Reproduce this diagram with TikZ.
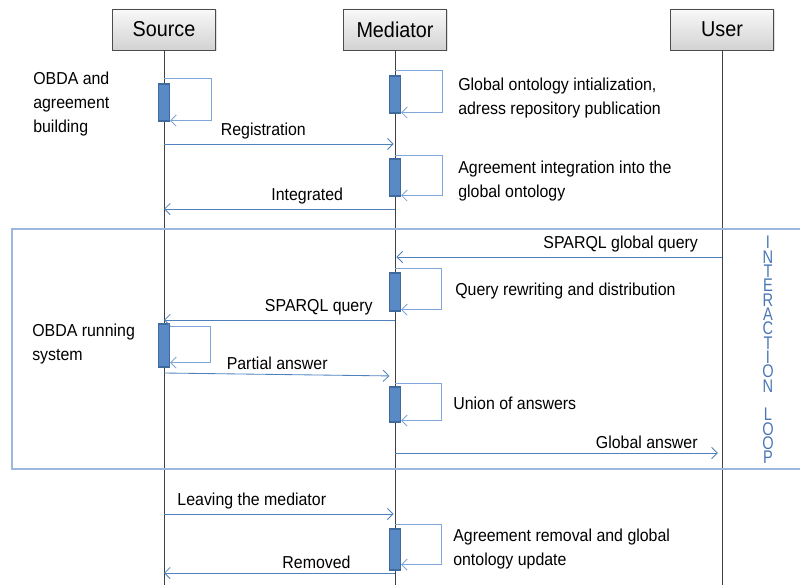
\documentclass[tikz,border=0pt]{standalone}
\usepackage{fontspec}
\setmainfont{Liberation Sans}[FakeStretch=0.92]
\newfontfamily\loopfont{Liberation Sans}[FakeStretch=0.8]
\usetikzlibrary{positioning, arrows.meta, shadows}
\definecolor{msgblue}{HTML}{4F81BD}
\definecolor{selfblue}{HTML}{7EA6D8}
\definecolor{barfill}{HTML}{5A8AC6}
\definecolor{bardraw}{HTML}{3F6A9E}
\definecolor{boxline}{HTML}{9BB9DC}
\definecolor{looptxt}{HTML}{4A76B4}

\begin{document}
\begin{tikzpicture}[x=0.025cm, y=0.025cm, font=\fontsize{12.3}{17}\selectfont]
    \tikzset{
        actor/.style={rectangle, draw=gray!60!black, top color=gray!5, bottom color=gray!35,
                      minimum width=2.575cm, minimum height=1.025cm, font=\fontsize{15.3}{18}\selectfont,
                      drop shadow={opacity=0.25, shadow xshift=1pt, shadow yshift=-1pt}},
        lifeline/.style={black!75, line width=0.6pt},
        bar/.style={rectangle, draw=bardraw, fill=barfill, line width=0.8pt,
                    minimum width=0.275cm, inner sep=0pt},
        msg/.style={draw=msgblue, line width=0.6pt, -{Straight Barb[length=4pt, width=8pt]}},
        selfmsg/.style={draw=selfblue, line width=0.6pt, -{Straight Barb[length=4pt, width=8pt]}},
        note/.style={anchor=west, align=left, inner sep=0pt},
        msglabel/.style={above=1pt, inner sep=2pt},
        looplabel/.style={text=looptxt, inner sep=0pt, align=center,
                          font=\loopfont\fontsize{13}{10.2}\selectfont}
    }
    \useasboundingbox (0,0) rectangle (800,-585);

    \node[actor] (src) at (164,-29.5) {Source};
    \node[actor] (med) at (395,-29.5) {Mediator};
    \node[actor] (usr) at (722,-29.5) {User};
    \draw[lifeline] (src.south) -- (src |- 0,-585);
    \draw[lifeline] (med.south) -- (med |- 0,-585);
    \draw[lifeline] (usr.south) -- (usr |- 0,-585);

    \draw[boxline, line width=1.2pt] (12,-229) rectangle (812,-469);

    \node[bar, minimum height=0.925cm] (s1) at (164,-102.5) {};
    \node[bar, minimum height=0.925cm] (m1) at (395,-94.5) {};
    \node[bar, minimum height=0.925cm] (m2) at (395,-177.5) {};
    \node[bar, minimum height=0.95cm]  (m3) at (395,-292) {};
    \node[bar, minimum height=1.075cm] (s2) at (164,-345.5) {};
    \node[bar, minimum height=0.875cm] (m4) at (395,-404.5) {};
    \node[bar, minimum height=1.025cm] (m5) at (395,-549.5) {};

    \draw[selfmsg] ([shift={(0,5)}]s1.north) -| ([shift={(41,1)}]s1.south east) -- ([shift={(0,1)}]s1.south east);
    \draw[selfmsg] ([shift={(0,5)}]m1.north) -| ([shift={(41,1)}]m1.south east) -- ([shift={(0,1)}]m1.south east);
    \draw[selfmsg] ([shift={(0,3)}]m2.north) -| ([shift={(41,1)}]m2.south east) -- ([shift={(0,1)}]m2.south east);
    \draw[selfmsg] ([shift={(0,4)}]m3.north) -| ([shift={(40,2)}]m3.south east) -- ([shift={(0,2)}]m3.south east);
    \draw[selfmsg] ([shift={(0,-3)}]s2.north east) -| ([shift={(40,5)}]s2.south east) -- ([shift={(0,5)}]s2.south east);
    \draw[selfmsg] ([shift={(0,3)}]m4.north) -| ([shift={(40,2)}]m4.south east) -- ([shift={(0,2)}]m4.south east);
    \draw[selfmsg] ([shift={(0,4)}]m5.north) -| ([shift={(40,6)}]m5.south east) -- ([shift={(0,6)}]m5.south east);

    \draw[msg, shorten >=1pt] (src |- 0,-144) -- (med |- 0,-144) node[msglabel, pos=0.43] {Registration};
    \draw[msg] (med |- 0,-209) -- (src |- 0,-209) node[msglabel, pos=0.38] {Integrated};
    \draw[msg, shorten >=1pt] (usr |- 0,-257) -- (med |- 0,-257) node[msglabel, pos=0.31] {SPARQL global query};
    \draw[msg] (med |- 0,-320) -- (src |- 0,-320) node[msglabel, pos=0.33] {SPARQL query};
    \draw[msg, shorten >=4pt] (src |- 0,-373) -- (med |- 0,-376) node[msglabel, pos=0.49] {Partial answer};
    \draw[msg, shorten >=3pt] (med |- 0,-453) -- (usr |- 0,-453) node[msglabel, pos=0.77] {Global answer};
    \draw[msg, shorten >=1pt] (src |- 0,-514) -- (med |- 0,-514) node[msglabel, pos=0.38] {Leaving the mediator};
    \draw[msg] (med |- 0,-573) -- (src |- 0,-573) node[msglabel, pos=0.34] {Removed};

    \node[note] (build)   at (33,-104)  {OBDA and\\agreement\\building};
    \node[note] (init)    at (458,-98)  {Global ontology intialization,\\adress repository publication};
    \node[note] (integ)   at (458,-181) {Agreement integration into the\\global ontology};
    \node[note] (rewrite) at (455,-291) {Query rewriting and distribution};
    \node[note] (run)     at (32,-344)  {OBDA running\\system};
    \node[note] (union)   at (453,-403) {Union of answers};
    \node[note] (removal) at (453,-549) {Agreement removal and global\\ontology update};

    \node[looplabel] (loop) at (768,-350)
        {I\\N\\T\\E\\R\\A\\C\\T\\I\\O\\N\\\mbox{}\\L\\O\\O\\P};
\end{tikzpicture}
\end{document}
